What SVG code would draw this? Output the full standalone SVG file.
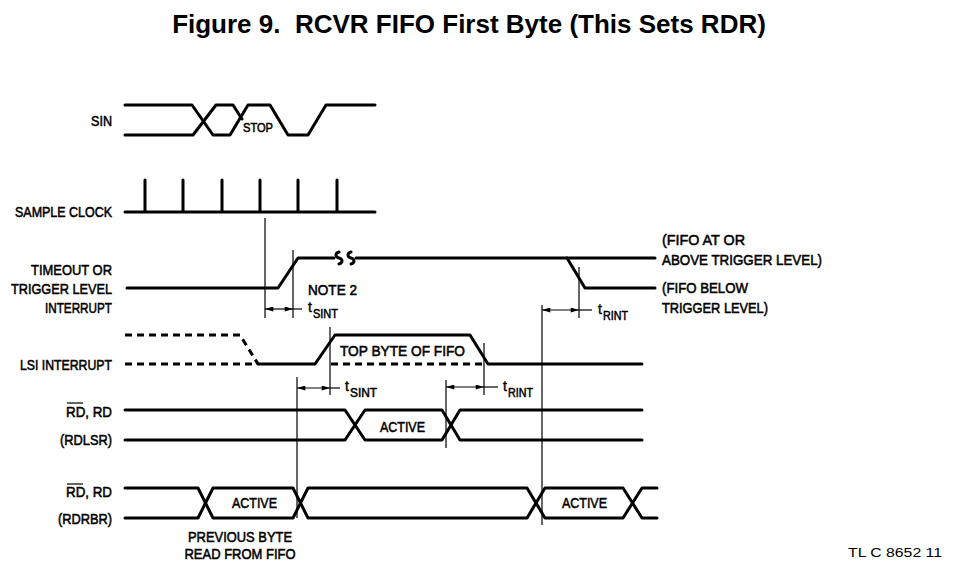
<svg xmlns="http://www.w3.org/2000/svg" width="959" height="562" viewBox="0 0 959 562">
<defs>
<style>
.bg{fill:#fff}
.sig{fill:none;stroke:#000;stroke-width:3;stroke-linejoin:round;stroke-linecap:round}
.dash{fill:none;stroke:#000;stroke-width:3;stroke-dasharray:7 5}
.ref{fill:none;stroke:#000;stroke-width:1.2}
.dim{fill:none;stroke:#000;stroke-width:1.2}
.l{font-family:"Liberation Sans",Arial,sans-serif;font-size:15px;fill:#000;stroke:#000;stroke-width:0.55}
.s{font-family:"Liberation Sans",Arial,sans-serif;font-size:12px;fill:#000;stroke:#000;stroke-width:0.5}
.t{font-family:"Liberation Sans",Arial,sans-serif;font-size:14px;fill:#000;stroke:#000;stroke-width:0.4}
.title{font-family:"Liberation Sans",Arial,sans-serif;font-size:26px;font-weight:bold;fill:#000}
.id{font-family:"Liberation Sans",Arial,sans-serif;font-size:12px;fill:#000}
</style>
<marker id="ar" viewBox="0 0 10 6" refX="10" refY="3" markerWidth="9" markerHeight="5" markerUnits="userSpaceOnUse" orient="auto-start-reverse">
<path d="M0,0 L10,3 L0,6 z" fill="#000"/>
</marker>
</defs>
<rect class="bg" x="0" y="0" width="959" height="562"/>
<text class="title" x="469" y="33" text-anchor="middle" xml:space="preserve">Figure 9.  RCVR FIFO First Byte (This Sets RDR)</text>

<g id="sin">
<text class="l" x="112" y="126" text-anchor="end" textLength="21" lengthAdjust="spacingAndGlyphs">SIN</text>
<path class="sig" d="M125,105 H192 L213,135 H230 L248,105 H270 L288,135 H308 L326,105 H375"/>
<path class="sig" d="M125,135 H193 L216,105 H233 L242,119"/>
<text class="l" x="243" y="132" textLength="30" lengthAdjust="spacingAndGlyphs" style="font-size:13px">STOP</text>
</g>

<g id="sample-clock">
<text class="l" x="112" y="217" text-anchor="end" textLength="97" lengthAdjust="spacingAndGlyphs">SAMPLE CLOCK</text>
<path class="sig" d="M125,212 H375 M145,180 V212 M183,180 V212 M222,180 V212 M260,180 V212 M298,180 V212 M337,180 V212"/>
</g>

<g id="timeout">
<text class="l" x="112" y="275" text-anchor="end" textLength="81" lengthAdjust="spacingAndGlyphs">TIMEOUT OR</text>
<text class="l" x="112" y="294" text-anchor="end" textLength="101" lengthAdjust="spacingAndGlyphs">TRIGGER LEVEL</text>
<text class="l" x="112" y="313" text-anchor="end" textLength="67" lengthAdjust="spacingAndGlyphs">INTERRUPT</text>
<path class="sig" d="M127,288 H278 L298,258 H334"/>
<path class="sig" d="M339,252 c-4,1 -4,5 0,6 c4,1 4,5 0,6"/>
<path class="sig" d="M351,252 c-4,1 -4,5 0,6 c4,1 4,5 0,6"/>
<path class="sig" d="M356,258 H655"/>
<path class="sig" d="M567,258 L585,288 H655"/>
<text class="l" x="308" y="295" textLength="49" lengthAdjust="spacingAndGlyphs">NOTE 2</text>
<text class="l" x="662" y="245" textLength="83" lengthAdjust="spacingAndGlyphs">(FIFO AT OR</text>
<text class="l" x="662" y="265" textLength="160" lengthAdjust="spacingAndGlyphs">ABOVE TRIGGER LEVEL)</text>
<text class="l" x="662" y="293" textLength="86" lengthAdjust="spacingAndGlyphs">(FIFO BELOW</text>
<text class="l" x="662" y="313" textLength="106" lengthAdjust="spacingAndGlyphs">TRIGGER LEVEL)</text>
</g>

<g id="lsi-interrupt">
<text class="l" x="112" y="370" text-anchor="end" textLength="92" lengthAdjust="spacingAndGlyphs">LSI INTERRUPT</text>
<path class="dash" d="M125,335 H240 L258,364"/>
<path class="dash" d="M125,364 H252"/>
<path class="dash" d="M331,364 H482"/>
<path class="sig" d="M258,364 H315 L335,335 H470 L488,364 H642"/>
<text class="l" x="340" y="356" textLength="125" lengthAdjust="spacingAndGlyphs">TOP BYTE OF FIFO</text>
</g>

<g id="rdlsr">
<text class="l" x="112" y="417" text-anchor="end" textLength="46" lengthAdjust="spacingAndGlyphs">RD, RD</text>
<line class="ref" x1="67" y1="403" x2="83" y2="403"/>
<text class="l" x="112" y="445" text-anchor="end" textLength="52" lengthAdjust="spacingAndGlyphs">(RDLSR)</text>
<path class="sig" d="M125,410 H345 L365,440 H442 L460,410 H642"/>
<path class="sig" d="M125,440 H345 L365,410 H442 L460,440 H642"/>
<text class="l" x="380" y="432" textLength="45" lengthAdjust="spacingAndGlyphs">ACTIVE</text>
</g>

<g id="rdrbr">
<text class="l" x="112" y="497" text-anchor="end" textLength="46" lengthAdjust="spacingAndGlyphs">RD, RD</text>
<line class="ref" x1="67" y1="484" x2="83" y2="484"/>
<text class="l" x="112" y="524" text-anchor="end" textLength="54" lengthAdjust="spacingAndGlyphs">(RDRBR)</text>
<path class="sig" d="M125,488 H198 L213,518 H293 L308,488 H527 L545,518 H623 L642,488 H657"/>
<path class="sig" d="M125,518 H198 L213,488 H293 L308,518 H527 L545,488 H623 L642,518 H657"/>
<text class="l" x="232" y="508" textLength="45" lengthAdjust="spacingAndGlyphs">ACTIVE</text>
<text class="l" x="562" y="508" textLength="45" lengthAdjust="spacingAndGlyphs">ACTIVE</text>
<text class="l" x="240" y="542" text-anchor="middle" textLength="104" lengthAdjust="spacingAndGlyphs">PREVIOUS BYTE</text>
<text class="l" x="240" y="559" text-anchor="middle" textLength="111" lengthAdjust="spacingAndGlyphs">READ FROM FIFO</text>
</g>

<g id="connectors">
<line class="ref" x1="265" y1="218" x2="265" y2="318"/>
<line class="ref" x1="293" y1="250" x2="293" y2="318"/>
<line class="dim" x1="265" y1="309" x2="293" y2="309" marker-start="url(#ar)" marker-end="url(#ar)"/>
<line class="dim" x1="293" y1="309" x2="302" y2="309"/>
<text class="t" x="308" y="312">t</text>
<text class="s" x="313" y="318" textLength="25" lengthAdjust="spacingAndGlyphs">SINT</text>

<line class="ref" x1="579" y1="267" x2="579" y2="318"/>
<line class="ref" x1="542" y1="305" x2="542" y2="525"/>
<line class="dim" x1="542" y1="310" x2="579" y2="310" marker-start="url(#ar)" marker-end="url(#ar)"/>
<line class="dim" x1="579" y1="310" x2="592" y2="310"/>
<text class="t" x="598" y="314">t</text>
<text class="s" x="603" y="320" textLength="25" lengthAdjust="spacingAndGlyphs">RINT</text>

<line class="ref" x1="330" y1="327" x2="330" y2="395"/>
<line class="ref" x1="297" y1="377" x2="297" y2="518"/>
<line class="dim" x1="297" y1="388" x2="330" y2="388" marker-start="url(#ar)" marker-end="url(#ar)"/>
<line class="dim" x1="330" y1="388" x2="340" y2="388"/>
<text class="t" x="345" y="391">t</text>
<text class="s" x="350" y="397" textLength="27" lengthAdjust="spacingAndGlyphs">SINT</text>

<line class="ref" x1="484" y1="343" x2="484" y2="395"/>
<line class="ref" x1="446" y1="380" x2="446" y2="448"/>
<line class="dim" x1="446" y1="387" x2="484" y2="387" marker-start="url(#ar)" marker-end="url(#ar)"/>
<line class="dim" x1="484" y1="387" x2="498" y2="387"/>
<text class="t" x="503" y="391">t</text>
<text class="s" x="508" y="397" textLength="25" lengthAdjust="spacingAndGlyphs">RINT</text>
</g>

<text class="id" x="848" y="557" textLength="94" lengthAdjust="spacingAndGlyphs">TL C 8652 11</text>
</svg>
